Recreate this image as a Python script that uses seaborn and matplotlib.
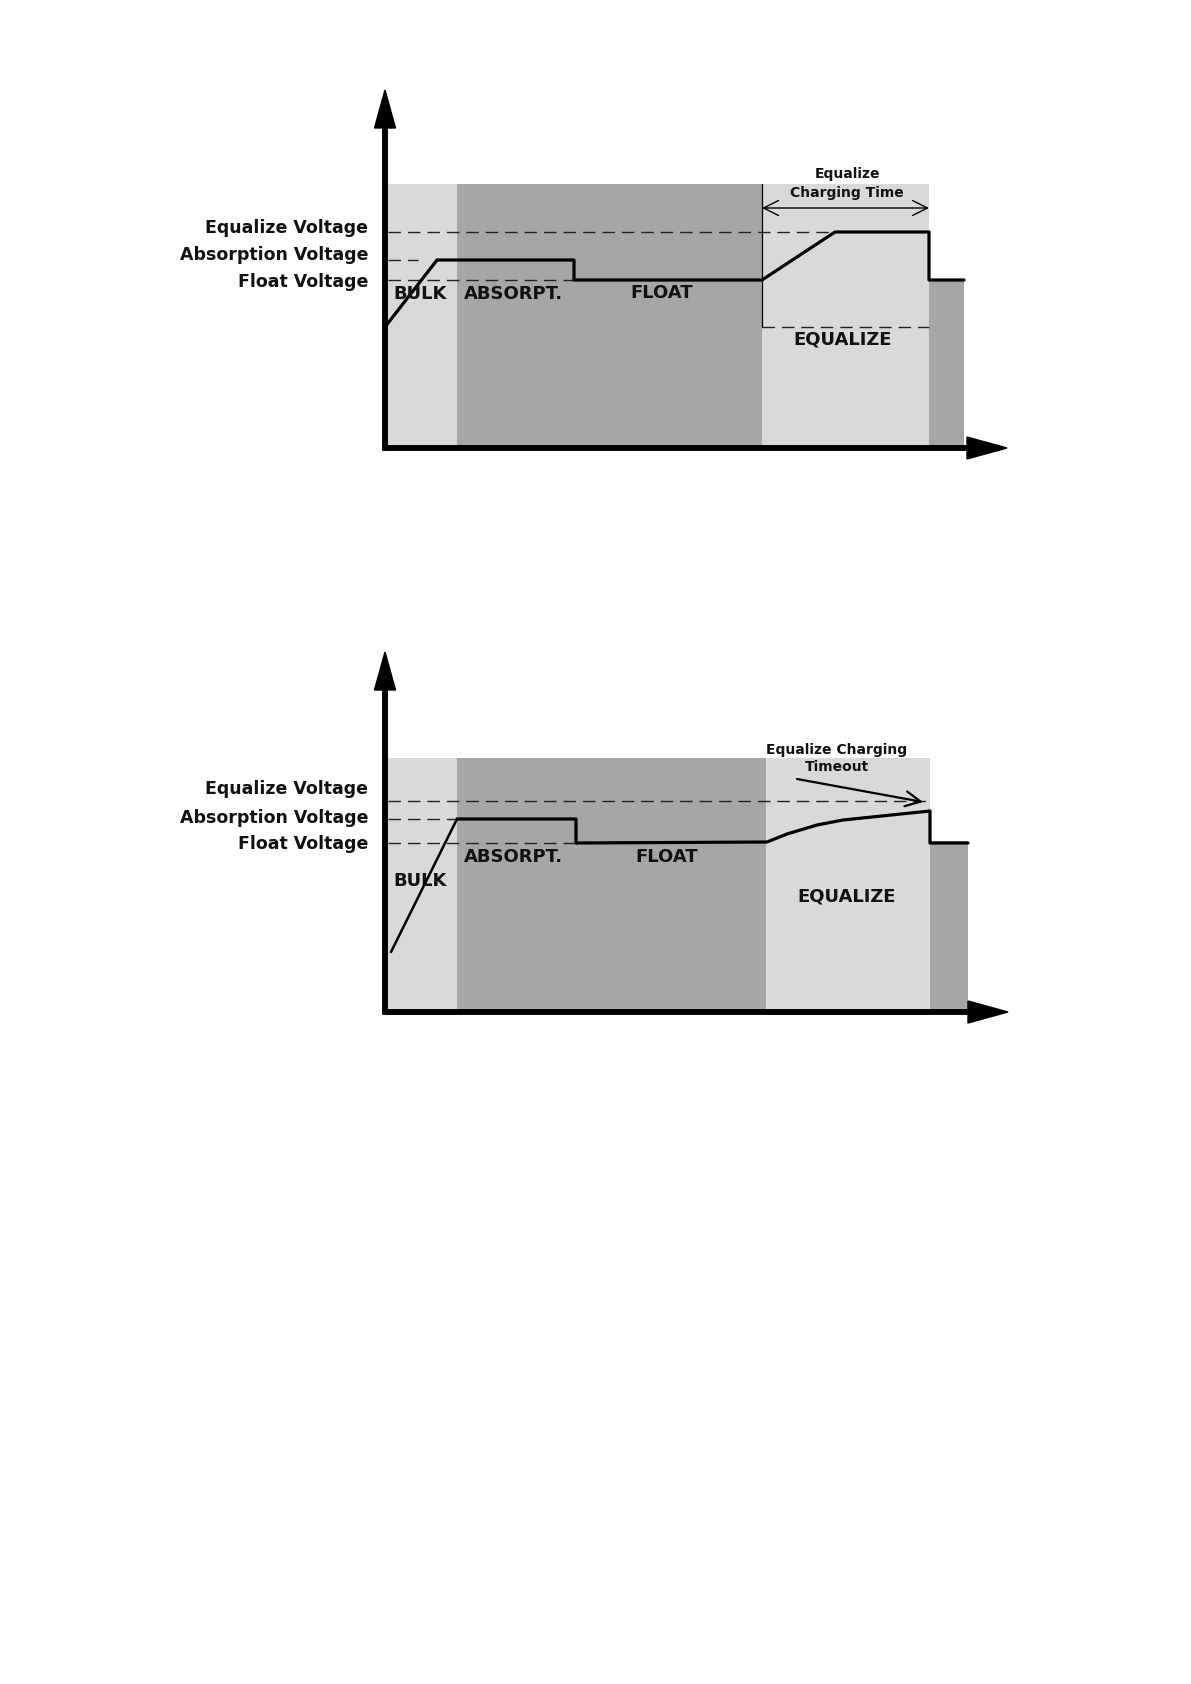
import matplotlib
matplotlib.use("Agg")
import matplotlib.pyplot as plt
import seaborn as sns

# --- diagram 1: equalize with charging time ---
stage_start_1 = [0, 72, 377, 544]
stage_width_1 = [72, 305, 167, 35]
stage_top_1 = [264, 264, 264, 168]
stage_kind_1 = ["light", "dark", "light", "dark"]

time_1 = [0, 52, 189, 189, 377, 450, 544, 544, 579]
volt_1 = [121, 188, 188, 168, 168, 216, 216, 168, 168]

level_names = ["Equalize Voltage", "Absorption Voltage", "Float Voltage"]
level_volt_1 = [216, 188, 168]
level_end_1 = [450, 33, 189]
label_y_1 = [220, 193, 166]

# --- diagram 2: equalize charging timeout ---
stage_start_2 = [0, 72, 381, 545]
stage_width_2 = [72, 309, 164, 38]
stage_top_2 = [254, 254, 254, 171]
stage_kind_2 = ["light", "dark", "light", "dark"]

bulk_time_2 = [6, 72]
bulk_volt_2 = [60, 193]
time_2 = [72, 191, 191, 382, 402, 432, 458, 545, 545, 583]
volt_2 = [193, 193, 169, 170, 178, 187, 192, 201, 169, 169]

level_volt_2 = [211, 193, 169]
level_end_2 = [545, 72, 191]
label_y_2 = [223, 194, 168]

shade = {"light": "#d9d9d9", "dark": "#a6a6a6"}

sns.set_theme(style="white")
plt.rcParams["font.family"] = ["DejaVu Sans"]
plt.rcParams["font.weight"] = "bold"
ink = "#111111"

fig = plt.figure(figsize=(11.91, 16.84), dpi=100)
W, H = 1191, 1684


def make_axes(top_px, bottom_px, ox, oy):
    left_px, right_px = 150, 1030
    ax = fig.add_axes([left_px / W, 1 - bottom_px / H,
                       (right_px - left_px) / W, (bottom_px - top_px) / H])
    ax.set_xlim(left_px - ox, right_px - ox)
    ax.set_ylim(oy - bottom_px, oy - top_px)
    ax.axis("off")
    return ax


def draw_frame(ax, starts, widths, tops, kinds, x_tip, y_tip):
    ax.bar(starts, tops, width=widths, align="edge",
           color=[shade[k] for k in kinds], linewidth=0, zorder=1)
    ax.arrow(0, -2, 0, y_tip + 2, width=4.5, head_width=21, head_length=38,
             length_includes_head=True, color="black", zorder=6)
    ax.arrow(-2, 0, x_tip + 2, 0, width=4.5, head_width=22, head_length=40,
             length_includes_head=True, color="black", zorder=6)


def draw_levels(ax, volts, ends, label_ys):
    for v, e in zip(volts, ends):
        ax.plot([3, e], [v, v], color="#222222", lw=1.0, ls=(0, (9, 5)), zorder=3)
    for name, ly in zip(level_names, label_ys):
        ax.text(-17, ly, name, ha="right", va="center", fontsize=12.5,
                color=ink, fontweight="bold")


# ---------- diagram 1 ----------
ax1 = make_axes(80, 470, 385, 448)
draw_frame(ax1, stage_start_1, stage_width_1, stage_top_1, stage_kind_1, 622, 358)
draw_levels(ax1, level_volt_1, level_end_1, label_y_1)
sns.lineplot(x=time_1, y=volt_1, sort=False, estimator=None, color="black",
             lw=2.3, ax=ax1, zorder=5)
ax1.plot([377, 377], [121, 264], color="black", lw=0.9, zorder=4)
ax1.plot([377, 544], [121, 121], color="#222222", lw=1.0, ls=(0, (9, 5)), zorder=3)
ax1.annotate("", xy=(544, 240), xytext=(377, 240),
             arrowprops=dict(arrowstyle="<->,head_length=0.9,head_width=0.45",
                             lw=1.0, color="black", shrinkA=0, shrinkB=0))
ax1.text(462, 274, "Equalize", ha="center", va="center", fontsize=10, color=ink)
ax1.text(462, 255, "Charging Time", ha="center", va="center", fontsize=10, color=ink)
ax1.text(8, 154, "BULK", ha="left", va="center", fontsize=13, color=ink)
ax1.text(79, 154, "ABSORPT.", ha="left", va="center", fontsize=13, color=ink)
ax1.text(277, 155, "FLOAT", ha="center", va="center", fontsize=13, color=ink)
ax1.text(458, 108, "EQUALIZE", ha="center", va="center", fontsize=13, color=ink)

# ---------- diagram 2 ----------
ax2 = make_axes(640, 1035, 385, 1012)
draw_frame(ax2, stage_start_2, stage_width_2, stage_top_2, stage_kind_2, 623, 360)
draw_levels(ax2, level_volt_2, level_end_2, label_y_2)
sns.lineplot(x=bulk_time_2, y=bulk_volt_2, sort=False, estimator=None,
             color="black", lw=1.8, ax=ax2, zorder=5)
sns.lineplot(x=time_2, y=volt_2, sort=False, estimator=None, color="black",
             lw=2.3, ax=ax2, zorder=5)
ax2.annotate("", xy=(538, 210), xytext=(412, 233),
             arrowprops=dict(arrowstyle="->,head_length=0.9,head_width=0.45",
                             lw=1.6, color="black", shrinkA=0, shrinkB=0))
ax2.text(452, 262, "Equalize Charging", ha="center", va="center", fontsize=10, color=ink)
ax2.text(452, 245, "Timeout", ha="center", va="center", fontsize=10, color=ink)
ax2.text(8, 131, "BULK", ha="left", va="center", fontsize=13, color=ink)
ax2.text(79, 155, "ABSORPT.", ha="left", va="center", fontsize=13, color=ink)
ax2.text(282, 155, "FLOAT", ha="center", va="center", fontsize=13, color=ink)
ax2.text(462, 116, "EQUALIZE", ha="center", va="center", fontsize=13, color=ink)

fig.savefig("out.png", dpi=100, facecolor="white")
